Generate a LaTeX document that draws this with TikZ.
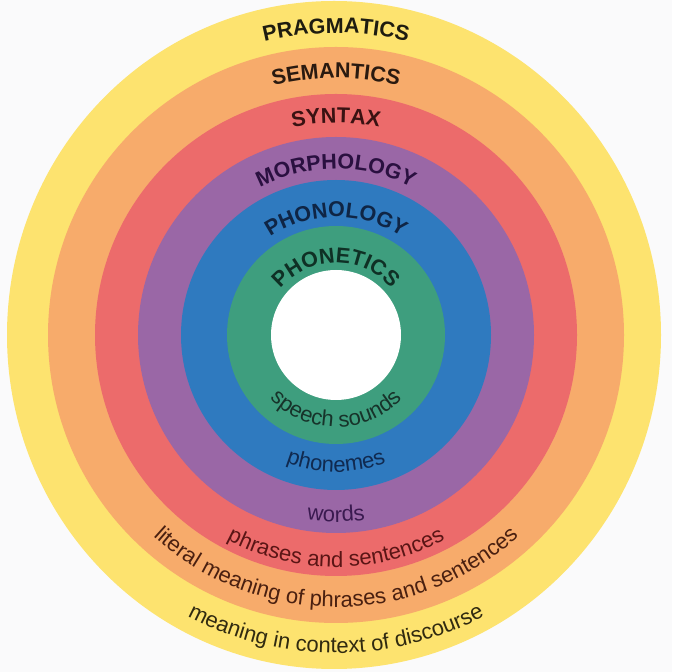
\documentclass[tikz,border=0pt]{standalone}
\usepackage{fontspec}
\setmainfont{Liberation Sans}
\usetikzlibrary{decorations.text,calc}
\newcommand\capsfont{\fontsize{21.5}{25}\selectfont\bfseries}
\newcommand\lowfont{\fontsize{22}{26}\selectfont}
\definecolor{ryellow}{HTML}{FDE36F}
\definecolor{rorange}{HTML}{F7AB6B}
\definecolor{rred}{HTML}{EC6B6B}
\definecolor{rpurple}{HTML}{9A67A6}
\definecolor{rblue}{HTML}{2F7ABF}
\definecolor{rgreen}{HTML}{3E9E7E}
\definecolor{bgc}{HTML}{FAFAFB}
\definecolor{tyellow}{HTML}{1E1C10}
\definecolor{torange}{HTML}{2A1A10}
\definecolor{tred}{HTML}{3A1212}
\definecolor{tpurple}{HTML}{2A1040}
\definecolor{tblue}{HTML}{0F2545}
\definecolor{tgreen}{HTML}{0F3025}
\definecolor{bgreen}{HTML}{17332A}
\definecolor{bblue}{HTML}{102A50}
\definecolor{bpurple}{HTML}{3A1A50}
\definecolor{bred}{HTML}{5A1515}
\definecolor{borange}{HTML}{4A2010}
\definecolor{byellow}{HTML}{302A10}
\tikzset{
  toplabel/.style 2 args={decorate, decoration={text along path, text align=center, text={|\capsfont\color{#2}|#1}}},
  botlabel/.style 2 args={decorate, decoration={text along path, text align=center, text={|\lowfont\color{#2}|#1}}}
}
\begin{document}
\begin{tikzpicture}[x=1pt,y=1pt]
\useasboundingbox (0,0) rectangle (672,672);
\fill[bgc] (0,0) rectangle (672,672);
\coordinate (c) at (336,337);
\fill[ryellow] (334,337) ellipse [x radius=327, y radius=334];
\fill[rorange] (c) circle[radius=288];
\fill[rred] (c) circle[radius=241];
\fill[rpurple] (c) circle[radius=198];
\fill[rblue] (c) circle[radius=155];
\fill[rgreen] (c) circle[radius=109];
\fill[white] (c) circle[radius=65];
% top labels
\path[toplabel={PRAGMATICS}{tyellow}] ($(c)+(180:302)$) arc[start angle=180, end angle=0, radius=302];
\path[toplabel={SEMANTICS}{torange}] ($(c)+(180:257)$) arc[start angle=180, end angle=0, radius=257];
\path[toplabel={SYNTAX}{tred}] ($(c)+(180:212)$) arc[start angle=180, end angle=0, radius=212];
\path[toplabel={MORPHOLOGY}{tpurple}] ($(c)+(180:166)$) arc[start angle=180, end angle=0, radius=166];
\path[toplabel={PHONOLOGY}{tblue}] ($(c)+(180:118)$) arc[start angle=180, end angle=0, radius=118];
\path[toplabel={PHONETICS}{tgreen}] ($(c)+(180:72)$) arc[start angle=180, end angle=0, radius=72];
% bottom labels
\path[botlabel={speech sounds}{bgreen}] ($(c)+(180:92)$) arc[start angle=180, end angle=360, radius=92];
\path[botlabel={phonemes}{bblue}] ($(c)+(180:137)$) arc[start angle=180, end angle=360, radius=137];
\path[botlabel={words}{bpurple}] ($(c)+(180:187)$) arc[start angle=180, end angle=360, radius=187];
\path[botlabel={phrases and sentences}{bred}] ($(c)+(180:232)$) arc[start angle=180, end angle=360, radius=232];
\path[botlabel={literal meaning of phrases and sentences}{borange}] ($(c)+(180:272)$) arc[start angle=180, end angle=360, radius=272];
\path[botlabel={meaning in context of discourse}{byellow}] ($(c)+(180:318)$) arc[start angle=180, end angle=360, radius=318];
\end{tikzpicture}
\end{document}
